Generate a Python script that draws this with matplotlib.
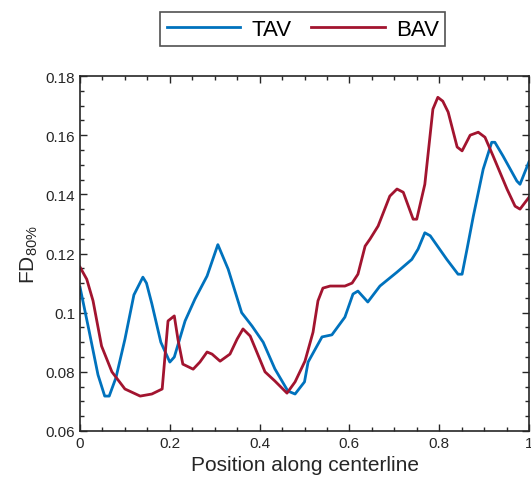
import matplotlib
matplotlib.use('Agg')
import matplotlib.pyplot as plt
from matplotlib.ticker import MultipleLocator, FuncFormatter

plt.rcParams['font.family'] = ['Liberation Sans', 'DejaVu Sans']
plt.rcParams['mathtext.fontset'] = 'custom'
plt.rcParams['mathtext.rm'] = 'Liberation Sans'
plt.rcParams['mathtext.it'] = 'Liberation Sans'

# TAV curve
tav_x = [0.0, 0.02, 0.04, 0.055, 0.065, 0.08, 0.10, 0.12, 0.14, 0.148, 0.16, 0.18, 0.20, 0.21,
         0.234, 0.256, 0.283, 0.307, 0.33, 0.36, 0.383, 0.408, 0.434, 0.463, 0.479, 0.50,
         0.508, 0.539, 0.561, 0.59, 0.608, 0.619, 0.641, 0.668, 0.706, 0.739, 0.753, 0.768,
         0.78, 0.817, 0.842, 0.851, 0.862, 0.876, 0.898, 0.917, 0.924, 0.942, 0.973, 0.98, 1.0]
tav_y = [0.1086, 0.094, 0.079, 0.0718, 0.0718, 0.078, 0.091, 0.106, 0.112, 0.110, 0.103, 0.090, 0.0833, 0.085,
         0.0972, 0.1046, 0.1124, 0.123, 0.1147, 0.100, 0.0955, 0.090, 0.081, 0.0735, 0.0725, 0.0766,
         0.0833, 0.0918, 0.0925, 0.0985, 0.1063, 0.1073, 0.1036, 0.109, 0.1137, 0.118, 0.1215, 0.127,
         0.126, 0.118, 0.113, 0.113, 0.1215, 0.1326, 0.1485, 0.1576, 0.1576, 0.153, 0.1445, 0.1434, 0.151]

# BAV curve
bav_x = [0.0, 0.015, 0.029, 0.048, 0.071, 0.10, 0.134, 0.16, 0.183, 0.196, 0.21, 0.218, 0.229,
         0.252, 0.267, 0.283, 0.294, 0.312, 0.334, 0.35, 0.363, 0.379, 0.412, 0.434, 0.461, 0.479,
         0.501, 0.519, 0.530, 0.541, 0.557, 0.59, 0.606, 0.619, 0.635, 0.646, 0.664, 0.69, 0.706,
         0.72, 0.742, 0.75, 0.768, 0.786, 0.797, 0.808, 0.82, 0.84, 0.851, 0.869, 0.887, 0.902,
         0.92, 0.951, 0.969, 0.98, 1.0]
bav_y = [0.1154, 0.1113, 0.104, 0.0887, 0.080, 0.0742, 0.0718, 0.0725, 0.0742, 0.0972, 0.0989, 0.0911, 0.0826,
         0.0809, 0.0833, 0.0867, 0.086, 0.0836, 0.086, 0.0911, 0.0945, 0.0921, 0.080, 0.0769, 0.0728, 0.0766,
         0.0836, 0.0934, 0.104, 0.1083, 0.109, 0.109, 0.110, 0.113, 0.1225, 0.1249, 0.1293, 0.1394, 0.1418,
         0.1407, 0.1316, 0.1316, 0.1434, 0.1688, 0.1728, 0.1715, 0.1678, 0.156, 0.1547, 0.160, 0.161, 0.1593,
         0.153, 0.1418, 0.136, 0.135, 0.139]

fig = plt.figure(figsize=(5.31, 4.85), dpi=100)
ax = fig.add_axes([0.1507, 0.1093, 0.8455, 0.7319])

ax.plot(tav_x, tav_y, color='#0072BD', lw=2, label='TAV')
ax.plot(bav_x, bav_y, color='#A2142F', lw=2, label='BAV')

ax.set_xlim(0, 1)
ax.set_ylim(0.06, 0.18)
ax.xaxis.set_major_locator(MultipleLocator(0.2))
ax.xaxis.set_minor_locator(MultipleLocator(0.05))
ax.yaxis.set_major_locator(MultipleLocator(0.02))
ax.yaxis.set_minor_locator(MultipleLocator(0.005))
fmt = FuncFormatter(lambda v, p: '%g' % round(v, 3))
ax.xaxis.set_major_formatter(fmt)
ax.yaxis.set_major_formatter(fmt)
ax.tick_params(which='both', direction='in', top=True, right=True, labelsize=11,
               color='#262626', labelcolor='#262626')
ax.tick_params(which='major', length=5, width=1)
ax.tick_params(which='minor', length=3, width=1)
for s in ax.spines.values():
    s.set_linewidth(1.2)
    s.set_color('#262626')

ax.set_xlabel('Position along centerline', fontsize=15, color='#262626')
ax.set_ylabel(r'FD$_{80\%}$', fontsize=15, color='#262626')

leg = fig.legend(loc='center', bbox_to_anchor=(0.570, 0.938), ncol=2, fontsize=16,
                 frameon=True, fancybox=False, edgecolor='#262626', handlelength=3.3,
                 columnspacing=0.9, borderpad=0.3, handletextpad=0.5)
leg.get_frame().set_linewidth(1.2)

fig.savefig('out.png', dpi=100)
